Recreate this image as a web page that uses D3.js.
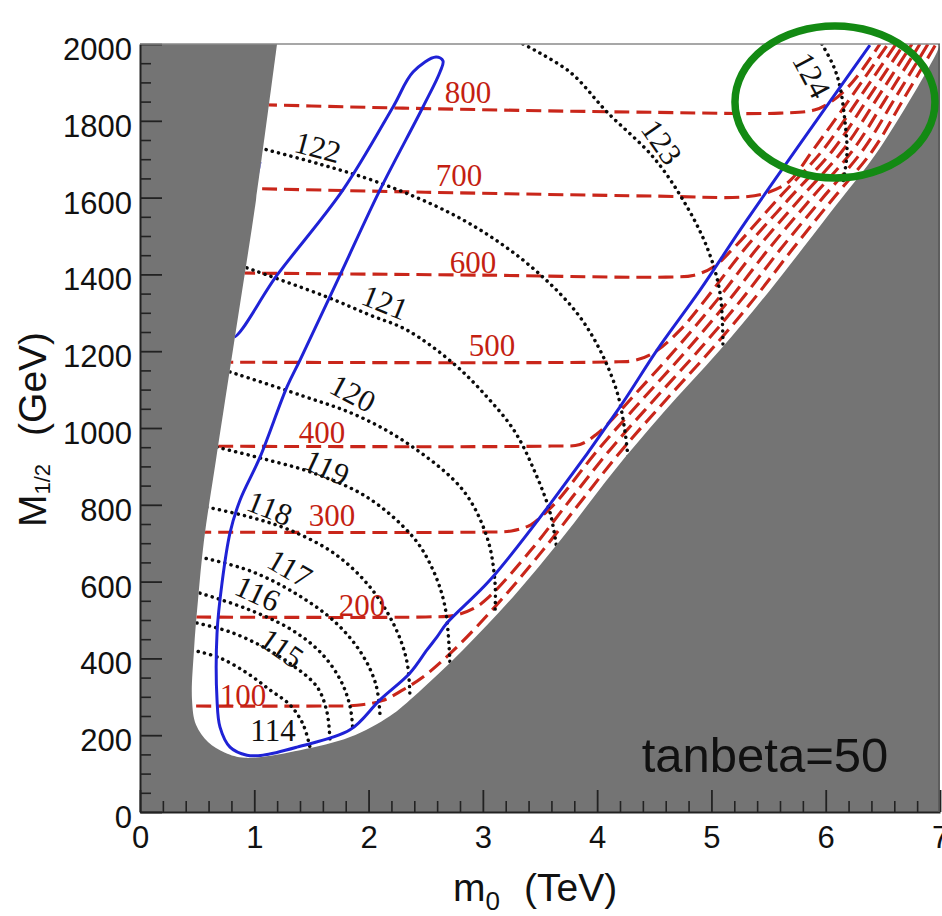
<!DOCTYPE html>
<html>
<head>
<meta charset="utf-8">
<script src="https://cdn.jsdelivr.net/npm/d3@7"></script>
<style>
  html, body { margin: 0; padding: 0; background: #ffffff; }
  svg { display: block; }
</style>
</head>
<body>
<svg id="chart" width="942" height="916"></svg>
<script>
// ---- axis ticks ----
const xTickValues = [0, 1, 2, 3, 4, 5, 6, 7];
const xTickLabels = ["0", "1", "2", "3", "4", "5", "6", "7"];
const yTickValues = [0, 200, 400, 600, 800, 1000, 1200, 1400, 1600, 1800, 2000];
const yTickLabels = ["0", "200", "400", "600", "800", "1000", "1200", "1400", "1600", "1800", "2000"];

// ---- allowed (white) region boundary, [m0 TeV, M1/2 GeV] ----
const allowedRegion = [
  [7.0, 2000], [6.974, 1979], [6.475, 1729], [6.0375, 1560], [5.5125, 1359],
  [5.075, 1203], [4.576, 1039], [4.139, 885], [3.701, 716], [3.264, 560],
  [2.826, 422], [2.389, 299], [2.1875, 250], [1.8375, 195], [1.40, 161],
  [0.919, 141], [0.744, 154], [0.595, 182], [0.49, 227], [0.455, 292],
  [0.4725, 422], [0.5075, 552], [0.56, 708], [0.665, 917], [0.84, 1255],
  [1.015, 1594], [1.199, 2000]
];

// ---- blue contour ----
const blueContour = [
  [1.050, 1693], [0.814, 1237], [1.199, 1398], [1.776, 1620], [2.214, 1836],
  [2.389, 1927], [2.59, 1966], [2.651, 1956], [2.625, 1927], [2.476, 1836],
  [2.1, 1620], [1.75, 1398], [1.4, 1177], [1.286, 1107], [1.05, 924],
  [0.875, 812], [0.7875, 727], [0.7175, 596], [0.674, 466], [0.674, 292],
  [0.70, 221], [0.7875, 169], [0.936, 148], [1.076, 148], [1.374, 169],
  [1.8375, 214], [2.1, 292], [2.3625, 362], [2.511, 422], [2.599, 456],
  [2.686, 492], [3.0625, 604], [3.614, 812], [4.2, 1055], [4.524, 1203],
  [4.9, 1359], [5.311, 1542], [6.387, 1997]
];

// ---- Higgs mass contours (GeV), black dotted ----
const higgsLevels = [114, 115, 116, 117, 118, 119, 120, 121, 122, 123, 124];
const higgs114 = [[0.455, 422], [0.70, 401], [0.936, 362], [1.137, 318], [1.312, 279], [1.426, 229], [1.487, 169]];
const higgs115 = [[0.499, 492], [0.7875, 469], [1.076, 430], [1.33, 383], [1.549, 326], [1.636, 260], [1.662, 187]];
const higgs116 = [[0.525, 570], [0.936, 529], [1.3125, 477], [1.575, 417], [1.75, 346], [1.837, 276], [1.864, 208]];
const higgs117 = [[0.525, 664], [0.9625, 628], [1.356, 570], [1.706, 495], [1.942, 411], [2.065, 331], [2.1, 253]];
const higgs118 = [[0.586, 794], [0.9625, 768], [1.312, 734], [1.706, 672], [2.012, 586], [2.231, 482], [2.336, 391], [2.362, 299]];
const higgs119 = [[0.674, 950], [1.05, 922], [1.514, 883], [1.986, 820], [2.389, 716], [2.564, 630], [2.669, 534], [2.712, 388]];
const higgs120 = [[0.7875, 1146], [1.4, 1086], [1.925, 1029], [2.389, 950], [2.826, 838], [3.036, 716], [3.106, 599], [3.106, 518]];
const higgs121 = [[0.936, 1417], [1.636, 1341], [2.012, 1294], [2.336, 1255], [2.739, 1169], [3.036, 1081], [3.281, 990], [3.456, 885], [3.587, 781], [3.649, 682]];
const higgs122 = [[1.05, 1729], [1.575, 1687], [2.1, 1638], [2.712, 1560], [3.15, 1482], [3.526, 1393], [3.824, 1299], [4.025, 1203], [4.174, 1094], [4.244, 990], [4.27, 922]];
const higgs123 = [[3.351, 2000], [3.762, 1927], [4.086, 1823], [4.489, 1706], [4.751, 1594], [4.961, 1471], [5.075, 1352], [5.101, 1211]];
const higgs124 = [[5.967, 2000], [6.072, 1940], [6.125, 1888], [6.169, 1797], [6.186, 1716], [6.151, 1638]];
const higgsContours = [higgs114, higgs115, higgs116, higgs117, higgs118, higgs119, higgs120, higgs121, higgs122, higgs123, higgs124];

// ---- mass contours (GeV), red dashed ----
const massLevels = [100, 200, 300, 400, 500, 600, 700, 800];
const mass100 = [[0.3, 276], [1.6, 276], [1.9, 278], [2.12, 290], [2.3, 318], [2.47, 350], [2.747, 422], [3.159, 552], [3.526, 682], [3.867, 812], [4.217, 943], [4.602, 1073], [4.996, 1203], [5.364, 1333], [5.705, 1464], [6.055, 1594], [6.414, 1724], [6.676, 1854], [6.965, 2000]];
const mass200 = [[0.3, 508], [2.5, 508], [2.75, 512], [2.92, 530], [3.054, 560], [3.421, 682], [3.762, 812], [4.112, 943], [4.497, 1073], [4.891, 1203], [5.259, 1333], [5.6, 1464], [5.959, 1594], [6.326, 1724], [6.597, 1854], [6.895, 2000]];
const mass300 = [[0.3, 729], [3.0, 729], [3.25, 732], [3.42, 748], [3.55, 780], [3.657, 812], [4.007, 943], [4.392, 1073], [4.786, 1203], [5.154, 1333], [5.495, 1464], [5.862, 1594], [6.239, 1724], [6.519, 1854], [6.825, 2000]];
const mass400 = [[0.3, 953], [3.6, 953], [3.85, 957], [4.0, 985], [4.14, 1025], [4.287, 1073], [4.681, 1203], [5.049, 1333], [5.39, 1464], [5.766, 1594], [6.151, 1724], [6.44, 1854], [6.755, 2000]];
const mass500 = [[0.3, 1172], [4.1, 1172], [4.33, 1176], [4.5, 1197], [4.725, 1255], [4.944, 1333], [5.285, 1464], [5.67, 1594], [6.064, 1724], [6.361, 1854], [6.685, 2000]];
const mass600 = [[0.3, 1405], [3.0, 1398], [4.6, 1393], [4.85, 1398], [5.02, 1420], [5.18, 1464], [5.574, 1594], [5.976, 1724], [6.282, 1854], [6.615, 2000]];
const mass700 = [[0.3, 1628], [2.5, 1614], [4.5, 1604], [5.3, 1602], [5.5, 1614], [5.68, 1642], [5.889, 1724], [6.204, 1854], [6.545, 2000]];
const mass800 = [[0.3, 1848], [2.3, 1833], [4.5, 1822], [5.6, 1820], [5.9, 1828], [6.05, 1850], [6.17, 1880], [6.3, 1925], [6.475, 2000]];
const massContours = [mass100, mass200, mass300, mass400, mass500, mass600, mass700, mass800];

// ---- label placement (data coordinates, rotation in degrees) ----
const higgsLabelAnchors = [
  [1.164, 214, 0], [1.242, 427, 35], [1.032, 570, 25], [1.312, 635, 30],
  [1.137, 792, 22], [1.636, 898, 25], [1.864, 1091, 28], [2.144, 1328, 22],
  [1.557, 1732, 15], [4.567, 1745, 55], [5.88, 1919, 62]
];
const massLabelAnchors = [
  [0.901, 305], [1.942, 539], [1.68, 773], [1.592, 990],
  [3.08, 1216], [2.914, 1432], [2.791, 1659], [2.87, 1875]
];
const panelNote = "tanbeta=50";
const panelNoteAnchor = [4.39, 104];
// highlighted corner (centre and half-widths in data units)
const highlight = { m0: 6.081, m12: 1849, dm0: 0.875, dm12: 198 };

// ---- scales ----
const svg = d3.select("#chart");
const x = d3.scaleLinear().domain([0, 7]).range([140, 940]);
const y = d3.scaleLinear().domain([0, 2000]).range([812, 44]);

const curve = d3.curveCatmullRom.alpha(0.5);
const line = d3.line().x(d => x(d[0])).y(d => y(d[1])).curve(curve);

// excluded background
svg.append("rect")
  .attr("x", x(0)).attr("y", y(2000))
  .attr("width", x(7) - x(0)).attr("height", y(0) - y(2000))
  .attr("fill", "#747474");

// allowed region
const regionPath = line(allowedRegion) + "Z";
svg.append("defs").append("clipPath").attr("id", "allowed")
  .append("path").attr("d", regionPath);
svg.append("path").attr("d", regionPath).attr("fill", "#ffffff");

const contours = svg.append("g").attr("clip-path", "url(#allowed)");

// red dashed mass contours
contours.selectAll("path.mass")
  .data(massContours)
  .join("path")
  .attr("class", "mass")
  .attr("d", line)
  .attr("fill", "none")
  .attr("stroke", "#c9261a")
  .attr("stroke-width", 3.1)
  .attr("stroke-dasharray", "15 7");

// black dotted Higgs contours
contours.selectAll("path.higgs")
  .data(higgsContours)
  .join("path")
  .attr("class", "higgs")
  .attr("d", line)
  .attr("fill", "none")
  .attr("stroke", "#0a0a0a")
  .attr("stroke-width", 3.5)
  .attr("stroke-linecap", "round")
  .attr("stroke-dasharray", "0.1 6.3");

// blue contour
contours.append("path")
  .attr("d", line(blueContour))
  .attr("fill", "none")
  .attr("stroke", "#1f22d6")
  .attr("stroke-width", 3)
  .attr("stroke-linejoin", "round");

// contour labels
svg.append("g").selectAll("text")
  .data(higgsLevels)
  .join("text")
  .attr("transform", (d, i) => {
    const a = higgsLabelAnchors[i];
    return `translate(${x(a[0])},${y(a[1])}) rotate(${a[2]})`;
  })
  .attr("text-anchor", "middle")
  .attr("dy", "0.35em")
  .attr("font-family", "'Liberation Serif', 'DejaVu Serif', serif")
  .attr("font-size", 31)
  .attr("fill", "#111111")
  .text(d => d);

svg.append("g").selectAll("text")
  .data(massLevels)
  .join("text")
  .attr("x", (d, i) => x(massLabelAnchors[i][0]))
  .attr("y", (d, i) => y(massLabelAnchors[i][1]))
  .attr("text-anchor", "middle")
  .attr("dy", "0.35em")
  .attr("font-family", "'Liberation Serif', 'DejaVu Serif', serif")
  .attr("font-size", 31)
  .attr("fill", "#c41f12")
  .text(d => d);

// ---- axes ----
const minorX = d3.range(0, 7.0001, 0.2).filter(v => Math.abs(v - Math.round(v)) > 1e-6);
const minorY = d3.range(0, 2001, 50).filter(v => v % 200 !== 0);

function styleAxis(g) {
  g.selectAll(".tick line").attr("stroke", "#222").attr("stroke-width", 1.8);
  g.selectAll(".tick text")
    .attr("font-family", "'Liberation Sans', Arial, sans-serif")
    .attr("font-size", 31)
    .attr("fill", "#111");
  g.select(".domain").attr("stroke", "#222").attr("stroke-width", 2);
}

svg.append("g")
  .attr("transform", `translate(0,${y(0)})`)
  .call(d3.axisBottom(x).tickValues(minorX).tickSize(-11).tickSizeOuter(0).tickFormat(""))
  .call(g => { g.select(".domain").remove(); g.selectAll(".tick line").attr("stroke", "#222").attr("stroke-width", 1.6); });

svg.append("g")
  .attr("transform", `translate(${x(0)},0)`)
  .call(d3.axisLeft(y).tickValues(minorY).tickSize(-11).tickSizeOuter(0).tickFormat(""))
  .call(g => { g.select(".domain").remove(); g.selectAll(".tick line").attr("stroke", "#222").attr("stroke-width", 1.6); });

svg.append("g")
  .attr("transform", `translate(0,${y(0)})`)
  .call(d3.axisBottom(x).tickValues(xTickValues).tickSize(-22).tickSizeOuter(0).tickPadding(14)
    .tickFormat((d, i) => xTickLabels[i]))
  .call(styleAxis);

svg.append("g")
  .attr("transform", `translate(${x(0)},0)`)
  .call(d3.axisLeft(y).tickValues(yTickValues).tickSize(-22).tickSizeOuter(0).tickPadding(8)
    .tickFormat((d, i) => yTickLabels[i]))
  .call(styleAxis)
  .call(g => g.selectAll(".tick text").attr("dy", "0.5em"));

// frame: top and right edges
svg.append("line")
  .attr("x1", x(0)).attr("x2", x(7)).attr("y1", y(2000)).attr("y2", y(2000))
  .attr("stroke", "#8a8a8a").attr("stroke-width", 1.6);
svg.append("line")
  .attr("x1", x(7) - 1).attr("x2", x(7) - 1).attr("y1", y(2000)).attr("y2", y(0))
  .attr("stroke", "#555").attr("stroke-width", 1.4);

// panel note
svg.append("text")
  .attr("x", x(panelNoteAnchor[0]))
  .attr("y", y(panelNoteAnchor[1]))
  .attr("font-family", "'Liberation Sans', Arial, sans-serif")
  .attr("font-size", 49)
  .attr("fill", "#111")
  .text(panelNote);

// highlight ellipse
svg.append("ellipse")
  .attr("cx", x(highlight.m0))
  .attr("cy", y(highlight.m12))
  .attr("rx", x(highlight.dm0) - x(0))
  .attr("ry", y(0) - y(highlight.dm12))
  .attr("fill", "none")
  .attr("stroke", "#138a13")
  .attr("stroke-width", 7.5);

// axis titles
const xTitle = svg.append("text")
  .attr("x", 453).attr("y", 901)
  .attr("font-family", "'Liberation Sans', Arial, sans-serif")
  .attr("font-size", 39)
  .attr("fill", "#111");
xTitle.append("tspan").text("m");
xTitle.append("tspan").attr("font-size", 26).attr("dy", 9).text("0");
xTitle.append("tspan").attr("dx", 24).attr("dy", -9).text("(TeV)");

const yTitle = svg.append("text")
  .attr("transform", "translate(46,527) rotate(-90)")
  .attr("font-family", "'Liberation Sans', Arial, sans-serif")
  .attr("font-size", 39)
  .attr("fill", "#111");
yTitle.append("tspan").text("M");
yTitle.append("tspan").attr("font-size", 22).attr("dy", 4).text("1/2");
yTitle.append("tspan").attr("dx", 28).attr("dy", -4).text("(GeV)");
</script>
</body>
</html>
